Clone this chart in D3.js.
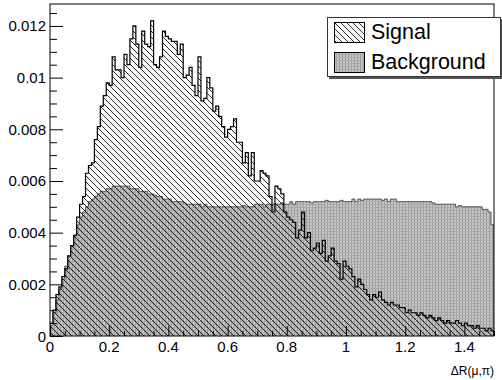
<!DOCTYPE html>
<meta charset="utf-8">
<html>
<head>
<script src="https://cdnjs.cloudflare.com/ajax/libs/d3/7.8.5/d3.min.js"></script>
<style>
  body { margin: 0; background: #fff; }
  svg { display: block; font-family: "Liberation Sans", Arial, sans-serif; }
</style>
</head>
<body>
<script>
// histogram binning: 150 bins of width 0.01 from 0 to 1.5
var binWidth = 0.01;

var signal = [
  0.0005, 0.0010, 0.0016, 0.0019, 0.0023, 0.0026, 0.0031, 0.0035, 0.0039, 0.0046,
  0.0051, 0.0054, 0.0063, 0.0066, 0.0067, 0.0076, 0.0081, 0.0089, 0.0093, 0.0098,
  0.0097, 0.0108, 0.0103, 0.0103, 0.0100, 0.0109, 0.0105, 0.0115, 0.0120, 0.0113,
  0.0104, 0.0118, 0.0113, 0.0112, 0.0122, 0.0105, 0.0104, 0.0108, 0.0118, 0.0116,
  0.0115, 0.0114, 0.0114, 0.0109, 0.0113, 0.0100, 0.0101, 0.0104, 0.0097, 0.0093,
  0.0108, 0.0091, 0.0092, 0.0100, 0.0096, 0.0087, 0.0089, 0.0085, 0.0081, 0.0077,
  0.0080, 0.0081, 0.0084, 0.0075, 0.0075, 0.0067, 0.0071, 0.0062, 0.0071, 0.0060,
  0.0060, 0.0064, 0.0063, 0.0062, 0.0054, 0.0048, 0.0058, 0.0057, 0.0055, 0.0048,
  0.0046, 0.0045, 0.0044, 0.0038, 0.0041, 0.0048, 0.0038, 0.0040, 0.0033, 0.0034,
  0.0036, 0.0032, 0.0037, 0.0029, 0.0031, 0.0034, 0.0029, 0.0028, 0.0022, 0.0029,
  0.0027, 0.0026, 0.0023, 0.0019, 0.0022, 0.0020, 0.0018, 0.0016, 0.0014, 0.0016,
  0.0015, 0.0017, 0.0014, 0.0013, 0.0012, 0.0013, 0.0012, 0.0012, 0.0011, 0.0011,
  0.0009, 0.0010, 0.0009, 0.0009, 0.0008, 0.0009, 0.0008, 0.0007, 0.0008, 0.0007,
  0.0006, 0.0007, 0.0006, 0.0005, 0.0006, 0.0005, 0.0005, 0.0006, 0.0005, 0.0004,
  0.0005, 0.0004, 0.0004, 0.0003, 0.0004, 0.0003, 0.0003, 0.0002, 0.0003, 0.0002
];

var background = [
  0.0004, 0.0009, 0.0014, 0.0018, 0.0022, 0.0027, 0.0031, 0.0035, 0.0039, 0.0043,
  0.0046, 0.0048, 0.0050, 0.0052, 0.0053, 0.0054, 0.0055, 0.0056, 0.0056, 0.0057,
  0.0057, 0.0058, 0.0058, 0.0058, 0.0058, 0.0058, 0.0058, 0.0057, 0.0057, 0.0057,
  0.0056, 0.0056, 0.0056, 0.0055, 0.0055, 0.00545, 0.0054, 0.0054, 0.0053, 0.0053,
  0.0053, 0.0052, 0.0052, 0.0052, 0.0052, 0.00515, 0.0051, 0.0051, 0.0051, 0.0051,
  0.0051, 0.0050, 0.0051, 0.0050, 0.0050, 0.0050, 0.0050, 0.0050, 0.0050, 0.0050,
  0.0050, 0.0050, 0.0050, 0.0050, 0.0050, 0.00505, 0.0050, 0.0050, 0.0050, 0.0051,
  0.0051, 0.0051, 0.0050, 0.0051, 0.0051, 0.0051, 0.0051, 0.0051, 0.00515, 0.0051,
  0.0051, 0.0052, 0.0051, 0.0052, 0.0052, 0.0052, 0.0052, 0.0052, 0.00515, 0.0052,
  0.0052, 0.0052, 0.0052, 0.00525, 0.0052, 0.0052, 0.0052, 0.0052, 0.00525, 0.0052,
  0.0052, 0.0052, 0.0053, 0.0052, 0.0053, 0.00525, 0.0053, 0.0053, 0.0053, 0.0053,
  0.0053, 0.0053, 0.00525, 0.0053, 0.0052, 0.0053, 0.0053, 0.0052, 0.0052, 0.0052,
  0.0052, 0.0052, 0.0052, 0.0052, 0.0052, 0.0052, 0.0052, 0.0052, 0.0052, 0.00515,
  0.0051, 0.0051, 0.0051, 0.0051, 0.0051, 0.0051, 0.0051, 0.0050, 0.00505, 0.0050,
  0.0050, 0.0050, 0.0050, 0.0050, 0.0050, 0.0050, 0.0049, 0.0049, 0.0048, 0.0043
];

var xTicks = [0, 0.2, 0.4, 0.6, 0.8, 1, 1.2, 1.4];
var xTickLabels = ["0", "0.2", "0.4", "0.6", "0.8", "1", "1.2", "1.4"];
var yTicks = [0, 0.002, 0.004, 0.006, 0.008, 0.01, 0.012];
var yTickLabels = ["0", "0.002", "0.004", "0.006", "0.008", "0.01", "0.012"];
var legendNames = ["Signal", "Background"];

var W = 502, H = 380;
var pL = 50, pR = 494, pT = 4, pB = 336;

var svg = d3.select("body").append("svg")
    .attr("width", W)
    .attr("height", H);

var x = d3.scaleLinear().domain([0, 1.5]).range([pL, pR]);
var y = d3.scaleLinear().domain([0, 0.01285]).range([pB, pT]);

// fill patterns (ROOT-ish hatch and dotted gray)
var defs = svg.append("defs");
var hatch = defs.append("pattern")
    .attr("id", "hatch")
    .attr("patternUnits", "userSpaceOnUse")
    .attr("width", 6).attr("height", 6);
hatch.append("path")
    .attr("d", "M0,0 L6,6 M-1,5 L1,7 M5,-1 L7,1")
    .attr("stroke", "#000")
    .attr("stroke-width", 0.85);

var dots = defs.append("pattern")
    .attr("id", "dots")
    .attr("patternUnits", "userSpaceOnUse")
    .attr("width", 3).attr("height", 3);
dots.append("rect").attr("width", 3).attr("height", 3).attr("fill", "#c6c6c6");
dots.append("rect").attr("width", 1).attr("height", 3).attr("fill", "#9a9a9a");
dots.append("rect").attr("width", 3).attr("height", 1).attr("fill", "#a9a9a9");

defs.append("clipPath").attr("id", "plotclip")
  .append("rect")
    .attr("x", pL).attr("y", pT)
    .attr("width", pR - pL).attr("height", pB - pT);

// turn bin values into step points
function steps(vals) {
  var pts = [[0, 0]];
  vals.forEach(function(v, i) { pts.push([i * binWidth, v]); });
  pts.push([vals.length * binWidth, vals[vals.length - 1]]);
  pts.push([vals.length * binWidth, 0]);
  return pts;
}

var area = d3.area()
    .x(function(d) { return x(d[0]); })
    .y0(y(0))
    .y1(function(d) { return y(d[1]); })
    .curve(d3.curveStepAfter);

var line = d3.line()
    .x(function(d) { return x(d[0]); })
    .y(function(d) { return y(d[1]); })
    .curve(d3.curveStepAfter);

var plot = svg.append("g").attr("clip-path", "url(#plotclip)");

plot.append("path")
    .attr("d", area(steps(background)))
    .attr("fill", "url(#dots)");
plot.append("path")
    .attr("d", line(steps(background)))
    .attr("fill", "none")
    .attr("stroke", "#444")
    .attr("stroke-width", 0.9);

plot.append("path")
    .attr("d", area(steps(signal)))
    .attr("fill", "url(#hatch)");
plot.append("path")
    .attr("d", line(steps(signal)))
    .attr("fill", "none")
    .attr("stroke", "#000")
    .attr("stroke-width", 1.2);

// axes, ROOT style: ticks inside the frame
var xAxis = d3.axisTop(x)
    .tickValues(d3.range(0, 1.5001, 0.05))
    .tickSize(5)
    .tickFormat("");
var gx = svg.append("g").attr("transform", "translate(0," + pB + ")").call(xAxis);
gx.select(".domain").remove();
gx.selectAll(".tick line")
    .attr("stroke", "#000")
    .attr("y2", function(d) { return Math.abs(d / 0.2 - Math.round(d / 0.2)) < 1e-6 ? -10 : -5; });

var yAxis = d3.axisRight(y)
    .tickValues(d3.range(0, 0.01284, 0.0005))
    .tickSize(7)
    .tickFormat("");
var gy = svg.append("g").attr("transform", "translate(" + pL + ",0)").call(yAxis);
gy.select(".domain").remove();
gy.selectAll(".tick line")
    .attr("stroke", "#000")
    .attr("x2", function(d) { return Math.abs(d / 0.002 - Math.round(d / 0.002)) < 1e-6 ? 13 : 7; });

svg.selectAll(".xlab")
    .data(xTicks)
  .enter().append("text")
    .attr("x", function(d) { return x(d); })
    .attr("y", 352)
    .attr("text-anchor", "middle")
    .style("font-size", "15px")
    .text(function(d, i) { return xTickLabels[i]; });

svg.selectAll(".ylab")
    .data(yTicks)
  .enter().append("text")
    .attr("x", 46)
    .attr("y", function(d) { return y(d) + 5.5; })
    .attr("text-anchor", "end")
    .style("font-size", "15px")
    .text(function(d, i) { return yTickLabels[i]; });

svg.append("text")
    .attr("x", pR)
    .attr("y", 375)
    .attr("text-anchor", "end")
    .style("font-size", "12px")
    .text("\u0394R(\u03bc,\u03c0)");

// frame
svg.append("rect")
    .attr("x", pL).attr("y", pT)
    .attr("width", pR - pL).attr("height", pB - pT)
    .attr("fill", "none")
    .attr("stroke", "#000")
    .attr("stroke-width", 1);

// legend
var lg = svg.append("g");
lg.append("rect")
    .attr("x", 329).attr("y", 19).attr("width", 174).attr("height", 60)
    .attr("fill", "#555");
lg.append("rect")
    .attr("x", 327.5).attr("y", 17.5).attr("width", 173).attr("height", 59)
    .attr("fill", "#fff")
    .attr("stroke", "#333")
    .attr("stroke-width", 1);

var fills = ["url(#hatch)", "url(#dots)"];
legendNames.forEach(function(name, i) {
  var yy = 22 + i * 30;
  lg.append("rect")
      .attr("x", 334.5).attr("y", yy + 0.5).attr("width", 30).attr("height", 20)
      .attr("fill", "#fff");
  lg.append("rect")
      .attr("x", 334.5).attr("y", yy + 0.5).attr("width", 30).attr("height", 20)
      .attr("fill", fills[i])
      .attr("stroke", "#000")
      .attr("stroke-width", 1);
  lg.append("text")
      .attr("x", 371)
      .attr("y", yy + 16.5)
      .style("font-size", "21.5px")
      .text(name);
});
</script>
</body>
</html>
